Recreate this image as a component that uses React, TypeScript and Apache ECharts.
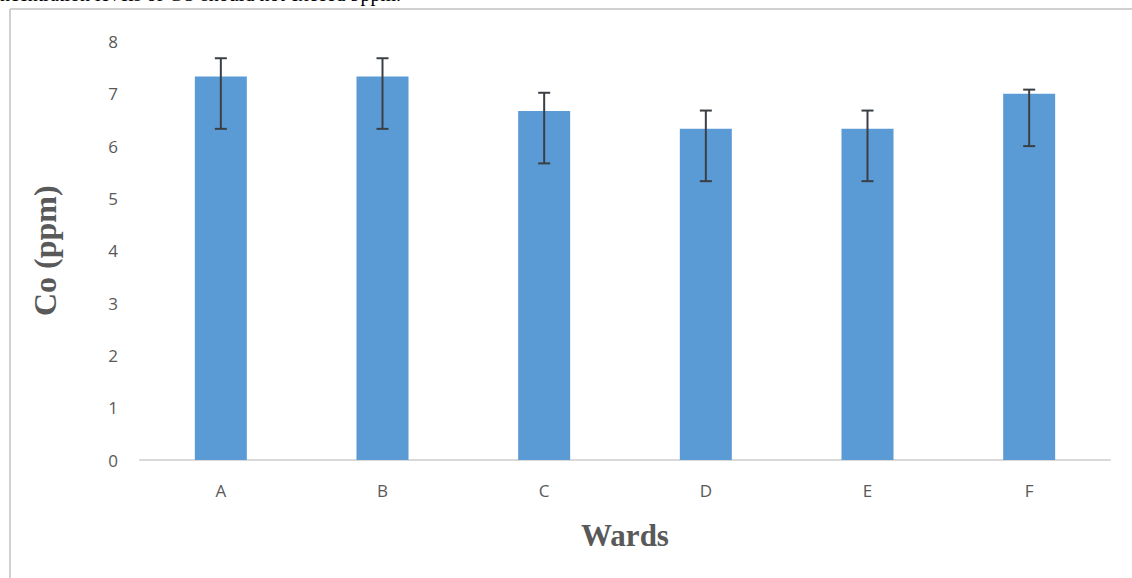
import React, { useEffect, useRef } from "react";
import * as echarts from "echarts";

const categories = ["A", "B", "C", "D", "E", "F"];
const values = [7.33, 7.33, 6.67, 6.33, 6.33, 7.0];
const errUpper = [7.68, 7.68, 7.02, 6.68, 6.68, 7.08];
const errLower = [6.33, 6.33, 5.67, 5.33, 5.33, 6.0];
const yTicks = [0, 1, 2, 3, 4, 5, 6, 7, 8];
const caption = "ncentration levels of CO should not exceed 9ppm.";

export default function App() {
  const ref = useRef<HTMLDivElement>(null);
  useEffect(() => {
    if (!ref.current) return;
    const chart = echarts.init(ref.current, null, { renderer: "svg" });
    const errData = categories.map((_, i) => [i, errLower[i], errUpper[i]]);
    chart.setOption({
      animation: false,
      backgroundColor: "#ffffff",
      grid: { left: 140, right: 22, top: 41.5, bottom: 118, containLabel: false },
      xAxis: {
        type: "category",
        data: categories,
        axisLine: { lineStyle: { color: "#d9d9d9", width: 2 } },
        axisTick: { show: false },
        axisLabel: { color: "#595959", fontSize: 17, fontFamily: "Open Sans", margin: 22 },
        name: "Wards",
        nameLocation: "middle",
        nameGap: 60,
        nameTextStyle: { color: "#595959", fontSize: 31, fontWeight: "bold", fontFamily: "Liberation Serif" },
      },
      yAxis: {
        type: "value",
        min: yTicks[0],
        max: yTicks[yTicks.length - 1],
        interval: 1,
        axisLine: { show: false },
        axisTick: { show: false },
        splitLine: { show: false },
        axisLabel: { color: "#595959", fontSize: 17, fontFamily: "Open Sans", margin: 22 },
        name: "Co (ppm)",
        nameLocation: "middle",
        nameGap: 79,
        nameRotate: 90,
        nameTextStyle: { color: "#595959", fontSize: 32, fontWeight: "bold", fontFamily: "Liberation Serif" },
      },
      graphic: [
        {
          type: "text",
          left: 0,
          top: -16,
          style: { text: caption, fontSize: 20, fontFamily: "Liberation Serif", fill: "#000000" },
          z: 10,
        },
        {
          type: "line",
          shape: { x1: 10, y1: 9, x2: 10, y2: 578 },
          style: { stroke: "#d0d0d0", lineWidth: 2 },
        },
        {
          type: "line",
          shape: { x1: 10, y1: 9, x2: 1132, y2: 9 },
          style: { stroke: "#d0d0d0", lineWidth: 2 },
        },
      ],
      series: [
        {
          type: "bar",
          data: values,
          barWidth: 52,
          itemStyle: { color: "#5b9bd5" },
        },
        {
          type: "custom",
          data: errData,
          z: 5,
          renderItem: (params: any, api: any) => {
            const x = api.value(0);
            const lo = api.coord([x, api.value(1)]);
            const hi = api.coord([x, api.value(2)]);
            const hw = 6;
            const style = { stroke: "#3a3f44", lineWidth: 2 };
            return {
              type: "group",
              children: [
                { type: "line", shape: { x1: hi[0], y1: hi[1], x2: lo[0], y2: lo[1] }, style },
                { type: "line", shape: { x1: hi[0] - hw, y1: hi[1], x2: hi[0] + hw, y2: hi[1] }, style },
                { type: "line", shape: { x1: lo[0] - hw, y1: lo[1], x2: lo[0] + hw, y2: lo[1] }, style },
              ],
            };
          },
        },
      ],
    });
    return () => chart.dispose();
  }, []);
  return <div ref={ref} style={{ position: "fixed", left: 0, top: 0, width: 1132, height: 578 }} />;
}
